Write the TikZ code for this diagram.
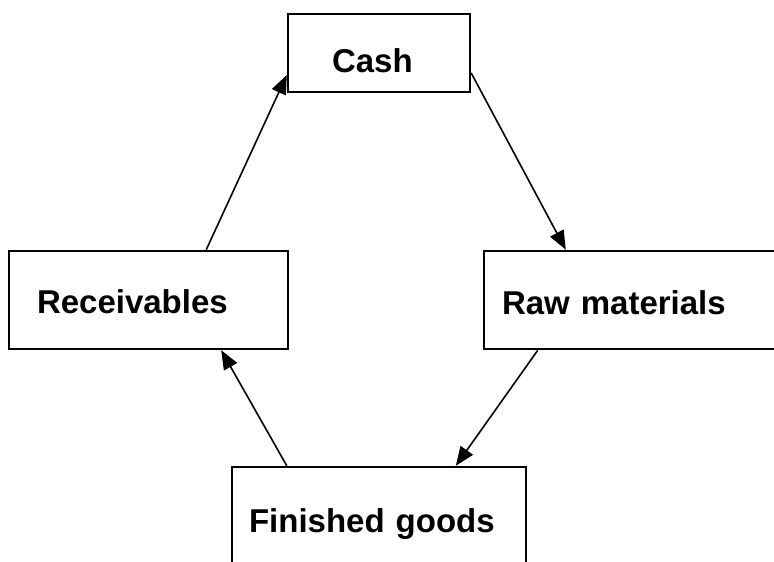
\documentclass[tikz,border=0pt]{standalone}
\usepackage{fontspec}
\setmainfont{Liberation Sans}
\usetikzlibrary{arrows.meta}
\tikzset{
  stockbox/.style={draw, line width=2.4pt, align=left, inner ysep=0pt,
    minimum height=98pt, text depth=0pt, font=\fontsize{33}{38}\selectfont\bfseries},
  flowarr/.style={-{Triangle[length=19pt, width=15pt]}, line width=1.6pt},
}

\begin{document}
\begin{tikzpicture}[x=1pt, y=-1pt]
  \useasboundingbox (0,0) rectangle (774,562);
  \clip (0,0) rectangle (774,562);
  % the four stages of the cycle
  \node[stockbox, minimum height=78pt, text height=38pt, text width=94pt, inner xsep=44pt] (cash) at (379,53) {Cash};
  \node[stockbox, text height=26pt, text width=223pt, inner xsep=28pt] (recv) at (148.5,300) {Receivables};
  \node[stockbox, text height=28pt, text width=260pt, inner xsep=18pt] (raw) at (632,300) {Raw materials};
  \node[stockbox, text height=32pt, text width=260pt, inner xsep=17pt] (fin) at (379,516) {Finished goods};
  % flows
  \draw[flowarr] ([yshift=-20pt]cash.east) -- ([xshift=83pt]raw.north west);
  \draw[flowarr] ([xshift=55pt]raw.south west) -- ([xshift=225pt]fin.north west);
  \draw[flowarr] ([xshift=56pt]fin.north west) -- ([xshift=-68pt]recv.south east);
  \draw[flowarr] ([xshift=-83pt]recv.north east) -- ([yshift=-22pt]cash.west);
\end{tikzpicture}
\end{document}
